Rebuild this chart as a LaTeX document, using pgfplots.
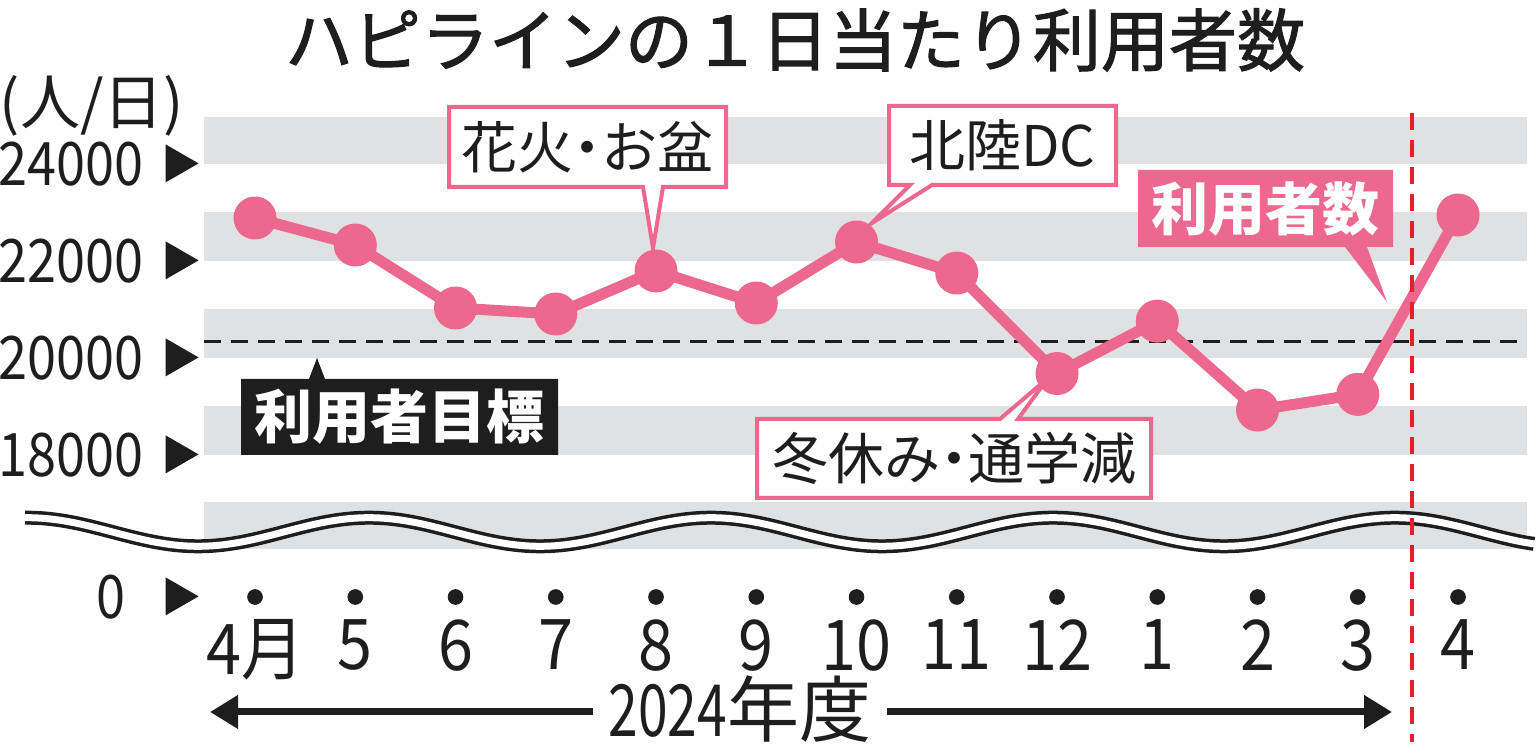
\documentclass[border=0pt]{standalone}
\usepackage{fontspec}
\setmainfont{Noto Sans CJK JP}
\newfontfamily\numfont[FakeStretch=0.87]{Noto Sans CJK JP}
\newfontfamily\xnumfont[FakeStretch=0.9]{Noto Sans CJK JP}
\newfontfamily\yearfont[FakeStretch=0.74]{Noto Sans CJK JP}
\newfontfamily\titlefont[FakeBold=1.6]{Noto Sans CJK JP}
\usepackage{pgfplots}
\usepackage{pgfplotstable}
\pgfplotsset{compat=1.18}
\usetikzlibrary{arrows.meta}
\definecolor{hpink}{RGB}{237,104,142}
\definecolor{band}{RGB}{224,225,227}
\definecolor{rline}{RGB}{232,30,45}
\definecolor{ink}{RGB}{30,30,30}
\newcommand\tri{\tikz[baseline=-1.5pt]\fill[ink] (0,0)--(0,19pt)--(16.5pt,9.5pt)--cycle;}

\pgfplotstableread{
x y
0 22887
1 22330
2 21031
3 20907
4 21794
5 21134
6 22392
7 21752
8 19680
9 20760
10 18927
11 19250
12 22948
}\users

\begin{document}
\begin{tikzpicture}
\path[use as bounding box] (0,0) rectangle (768pt,372pt);
\begin{axis}[
  at={(102pt,73.5pt)}, anchor=south west,
  scale only axis, width=661.5pt, height=239.75pt,
  xmin=-0.509, xmax=12.688, ymin=15072, ymax=24959,
  clip=false,
  scaled y ticks=false,
  axis line style={draw=none},
  tick style={draw=none},
  major tick length=0pt,
  xtick={0,...,12},
  xticklabels={4月,5,6,7,8,9,10,11,12,1,2,3,4},
  ytick={15072,18000,20000,22000,24000},
  yticklabels={{0\hspace{20pt}\tri},{18000\hspace{11pt}\tri},{20000\hspace{11pt}\tri},{22000\hspace{11pt}\tri},{24000\hspace{11pt}\tri}},
  xticklabel style={font=\xnumfont\fontsize{35}{35}\selectfont, text=ink, anchor=north, inner sep=0pt, yshift=-11pt},
  yticklabel style={font=\numfont\fontsize{30}{30}\selectfont, text=ink, anchor=east, inner sep=0pt, xshift=-2.5pt},
  title={ハピラインの１日当たり利用者数},
  every axis title/.style={at={(axis description cs:0.4467,1.1616)}, anchor=center, text=ink, font=\titlefont\fontsize{34}{34}\selectfont},
  ylabel={(人/日)},
  every axis y label/.style={at={(axis description cs:-0.0847,1.024)}, anchor=center, text=ink, font=\fontsize{30}{30}\selectfont},
  xlabel={{\yearfont 2024}年度},
  every axis x label/.style={at={(axis description cs:0.4051,-0.2338)}, anchor=center, text=ink, font=\fontsize{36}{36}\selectfont},
]
\fill[band] (axis cs:-0.509,24000) rectangle (axis cs:12.688,24959);
\fill[band] (axis cs:-0.509,22000) rectangle (axis cs:12.688,23000);
\fill[band] (axis cs:-0.509,20000) rectangle (axis cs:12.688,21000);
\fill[band] (axis cs:-0.509,18000) rectangle (axis cs:12.688,19000);
\fill[band] (axis cs:-0.509,16060) rectangle (axis cs:12.688,17030);
\addplot[ink, line width=1.5pt, dash pattern=on 8.5pt off 5pt] coordinates {(-0.509,20350) (12.688,20350)};
\addplot[hpink, line width=5.5pt, line join=round, mark=*, mark size=8pt, mark options={fill=hpink, draw=none}] table[x=x,y=y] {\users};
\addplot[only marks, mark=*, mark size=3.7pt, ink] coordinates {(0,15072) (1,15072) (2,15072) (3,15072) (4,15072) (5,15072) (6,15072) (7,15072) (8,15072) (9,15072) (10,15072) (11,15072) (12,15072)};
\draw[ink, line width=3.5pt, -{Triangle[length=14pt,width=16pt]}] (axis cs:3.372,12701) -- (axis cs:-0.449,12701);
\draw[ink, line width=3.5pt, -{Triangle[length=14pt,width=16pt]}] (axis cs:6.304,12701) -- (axis cs:11.342,12701);
\coordinate (rt) at (axis cs:11.541,25052);
\coordinate (rb) at (axis cs:11.541,12082);
\end{axis}
\begin{scope}[x=0.5pt,y=-0.5pt,yshift=372pt]
\draw[ink, line width=7pt] plot[domain=25:1534, samples=200, smooth] (\x, {532-14.3*cos(1.052632*(\x-27))});
\draw[white, line width=3.5pt] plot[domain=20:1540, samples=200, smooth] (\x, {532-14.3*cos(1.052632*(\x-27))});
\end{scope}
\draw[rline, line width=2.4pt, dash pattern=on 8.5pt off 5pt] (rt) -- (rb);
\begin{scope}[x=0.5pt,y=-0.5pt,yshift=372pt]
% 花火・お盆
\filldraw[fill=white, draw=hpink, line width=2pt] (449,107) -- (726,107) -- (726,187) -- (663,187) -- (653,248) -- (643,187) -- (449,187) -- cycle;
\node[text=ink, font=\fontsize{28}{28}\selectfont] at (587.5,147) {花火\kern-.25em・\kern-.25emお盆};
% 北陸DC
\filldraw[fill=white, draw=hpink, line width=2pt] (889,106) -- (1116,106) -- (1116,185) -- (932,185) -- (872,223) -- (910,185) -- (889,185) -- cycle;
\node[text=ink, font=\fontsize{28}{28}\selectfont] at (1002.5,145.5) {北陸DC};
% 冬休み・通学減
\filldraw[fill=white, draw=hpink, line width=2pt] (757,419) -- (1000,419) -- (1048,378) -- (1018,419) -- (1151,419) -- (1151,498) -- (757,498) -- cycle;
\node[text=ink, font=\fontsize{28}{28}\selectfont] at (954,458.5) {冬休み\kern-.25em・\kern-.25em通学減};
% 利用者数
\fill[hpink] (1138,170) -- (1393,170) -- (1393,247) -- (1367,247) -- (1387,302) -- (1345,247) -- (1138,247) -- cycle;
\node[text=white, font=\bfseries\fontsize{28.5}{28.5}\selectfont] at (1265.5,208.5) {利用者数};
% 利用者目標
\fill[ink] (241,379) -- (309,379) -- (317,358) -- (325,379) -- (558,379) -- (558,455) -- (241,455) -- cycle;
\node[text=white, font=\bfseries\fontsize{29}{29}\selectfont] at (399.5,417) {利用者目標};
\end{scope}
\end{tikzpicture}
\end{document}
